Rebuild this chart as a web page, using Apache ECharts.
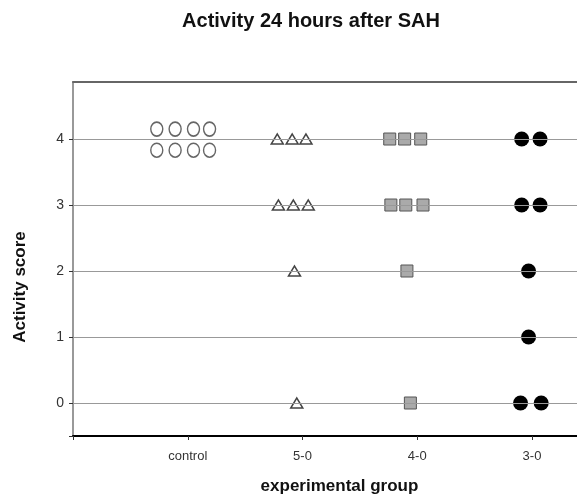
<!DOCTYPE html>
<html>
<head>
<meta charset="utf-8">
<script src="https://cdn.jsdelivr.net/npm/echarts@6/dist/echarts.min.js"></script>
<style>html,body{margin:0;padding:0;background:#fff;}#c{width:577px;height:496px;}</style>
</head>
<body>
<div id="c"></div>
<script>
// x tick labels at positions 0..4
const xTickLabels = ['', 'control', '5-0', '4-0', '3-0'];
const yTicks = [0, 1, 2, 3, 4];

// control group (open circles), plotted in two rows around score 4
const controlPts = [[0.73,4.15],[0.89,4.15],[1.05,4.15],[1.19,4.15],[0.73,3.83],[0.89,3.83],[1.05,3.83],[1.19,3.83]];
// 5-0 group (open triangles)
const g50Pts = [[1.78,4],[1.91,4],[2.03,4],[1.79,3],[1.92,3],[2.05,3],[1.93,2],[1.95,0]];
// 4-0 group (grey squares)
const g40Pts = [[2.76,4],[2.89,4],[3.03,4],[2.77,3],[2.90,3],[3.05,3],[2.91,2],[2.94,0]];
// 3-0 group (black circles)
const g30Pts = [[3.91,4],[4.07,4],[3.91,3],[4.07,3],[3.97,2],[3.97,1],[3.90,0],[4.08,0]];

const chart = echarts.init(document.getElementById('c'), null, {renderer:'canvas'});
const FF = 'Arial, "Liberation Sans", sans-serif';
chart.setOption({
  animation: false,
  backgroundColor: '#fff',
  title: {
    text: 'Activity 24 hours after SAH',
    left: 306, top: 6, textAlign: 'center',
    textStyle: {fontFamily: FF, fontSize: 20, fontWeight: 'bold', color: '#111'}
  },
  grid: {left: 73, top: 82, right: 0, bottom: 60, show: false, containLabel: false, outerBoundsMode: 'none'},
  xAxis: [{
    type: 'value', min: 0, max: 4.392, interval: 1,
    name: 'experimental group', nameLocation: 'middle', nameGap: 42,
    nameTextStyle: {fontFamily: FF, fontSize: 17, fontWeight: 'bold', color: '#111', padding: [0,0,0,29]},
    axisLine: {show: true, onZero: false, lineStyle: {color: '#000', width: 2}},
    axisTick: {show: true, length: 4, inside: false, lineStyle: {color: '#333'}},
    axisLabel: {
      show: true, margin: 14, fontFamily: FF, fontSize: 13, color: '#333',
      showMaxLabel: false,
      formatter: v => (Number.isInteger(v) && xTickLabels[v] !== undefined) ? xTickLabels[v] : ''
    },
    splitLine: {show: false}
  }, {
    type: 'value', position: 'top', min: 0, max: 4.392,
    axisLine: {show: true, onZero: false, lineStyle: {color: '#666', width: 2}},
    axisTick: {show: false}, axisLabel: {show: false}, splitLine: {show: false}
  }],
  yAxis: {
    type: 'value', min: -0.5, max: 4.864,
    name: 'Activity score', nameLocation: 'middle', nameGap: 44, nameRotate: 90,
    nameTextStyle: {fontFamily: FF, fontSize: 17, fontWeight: 'bold', color: '#111', padding: [0,56,0,0]},
    axisLine: {show: true, onZero: false, lineStyle: {color: '#777', width: 1.5}},
    axisTick: {show: true, length: 4, lineStyle: {color: '#333'}, customValues: [-0.5].concat(yTicks)},
    axisLabel: {show: true, margin: 9, fontFamily: FF, fontSize: 14, color: '#333', customValues: yTicks},
    splitLine: {show: false}
  },
  series: [
    {
      type: 'scatter', name: 'grid', data: [], silent: true,
      markLine: {
        silent: true, symbol: 'none', label: {show: false},
        lineStyle: {color: '#999', width: 1, type: 'solid'},
        data: yTicks.map(v => ({yAxis: v}))
      }
    },
    {type: 'scatter', name: 'control', data: controlPts, symbol: 'circle', symbolSize: [12, 14],
     itemStyle: {color: '#fff', borderColor: '#666', borderWidth: 1.5, opacity: 1}, z: 3},
    {type: 'scatter', name: '5-0', data: g50Pts, symbol: 'triangle', symbolSize: [12, 10],
     itemStyle: {color: '#fff', borderColor: '#444', borderWidth: 1.5, opacity: 1}, z: 3},
    {type: 'scatter', name: '4-0', data: g40Pts, symbol: 'rect', symbolSize: 12,
     itemStyle: {color: '#aaa', borderColor: '#555', borderWidth: 1, opacity: 1}, z: 3},
    {type: 'scatter', name: '3-0', data: g30Pts, symbol: 'circle', symbolSize: 15,
     itemStyle: {color: '#000', opacity: 1}, z: 3}
  ]
});
</script>
</body>
</html>
